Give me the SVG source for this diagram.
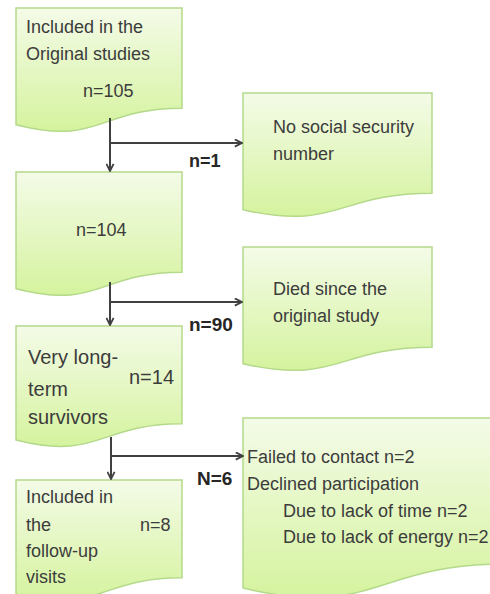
<svg xmlns="http://www.w3.org/2000/svg" width="490" height="594" viewBox="0 0 490 594">
<defs>
<linearGradient id="g" x1="0" y1="0" x2="0" y2="1">
<stop offset="0" stop-color="#f4fbe8"/>
<stop offset="1" stop-color="#d5f39e"/>
</linearGradient>
<marker id="arr" viewBox="0 0 10 10" refX="9" refY="5" markerWidth="9" markerHeight="9" markerUnits="userSpaceOnUse" orient="auto">
<path d="M1,1 L9,5 L1,9" fill="none" stroke="#404040" stroke-width="2"/>
</marker>
<style>
.box{fill:url(#g);stroke:#b4d98a;stroke-width:1.5}
.t{font-family:"Liberation Sans",Arial,sans-serif;font-size:18px;fill:#3c3c3c}
.big{font-size:20px}
.lbl{font-family:"Liberation Sans",Arial,sans-serif;font-weight:bold;fill:#262626}
.c{fill:none;stroke:#404040;stroke-width:2}
</style>
</defs>
<rect width="490" height="594" fill="#ffffff"/>
<g id="node-original">
<path class="box" d="M16,8 H182 V108.25 C99,108.25 99,146.4 16,124.75 Z"/>
<text class="t" x="26" y="33">Included in the</text>
<text class="t" x="26" y="60">Original studies</text>
<text class="t" x="83" y="97">n=105</text>
</g>
<g id="node-nossn">
<path class="box" d="M243,93 H432 V193.25 C337.5,193.25 337.5,231.4 243,209.75 Z"/>
<text class="t" x="273" y="133">No social security</text>
<text class="t" x="273" y="160">number</text>
</g>
<g id="node-104">
<path class="box" d="M16,172 H182 V272.25 C99,272.25 99,310.4 16,288.75 Z"/>
<text class="t" x="76" y="236">n=104</text>
</g>
<g id="node-died">
<path class="box" d="M243,247 H432 V347.25 C337.5,347.25 337.5,385.4 243,363.75 Z"/>
<text class="t" x="273" y="295">Died since the</text>
<text class="t" x="273" y="322">original study</text>
</g>
<g id="node-survivors">
<path class="box" d="M16,326 H182 V423.8 C99,423.8 99,461.1 16,440 Z"/>
<text class="t big" x="28" y="364">Very long-</text>
<text class="t big" x="129" y="384">n=14</text>
<text class="t big" x="28" y="396">term</text>
<text class="t big" x="28" y="424">survivors</text>
</g>
<g id="node-followup">
<path class="box" d="M16,480 H182 V577.8 C99,577.8 99,615.1 16,594 Z"/>
<text class="t" x="26" y="503">Included in</text>
<text class="t" x="26" y="531">the</text>
<text class="t" x="140" y="531">n=8</text>
<text class="t" x="26" y="557">follow-up</text>
<text class="t" x="26" y="583">visits</text>
</g>
<g id="node-excluded">
<path class="box" d="M243,418 H505 V564 C374,564 374,619.6 243,588 Z"/>
<text class="t" x="247" y="463">Failed to contact n=2</text>
<text class="t" x="247" y="490">Declined participation</text>
<text class="t" x="283" y="517">Due to lack of time n=2</text>
<text class="t" x="283" y="543">Due to lack of energy n=2</text>
</g>
<g id="connectors">
<path class="c" d="M110,118 V171" marker-end="url(#arr)"/>
<path class="c" d="M110,143 H242" marker-end="url(#arr)"/>
<path class="c" d="M110,282 V325" marker-end="url(#arr)"/>
<path class="c" d="M110,302 H242" marker-end="url(#arr)"/>
<path class="c" d="M111,437 V479" marker-end="url(#arr)"/>
<path class="c" d="M111,456 H243" marker-end="url(#arr)"/>
<text class="lbl" x="189" y="167" font-size="18">n=1</text>
<text class="lbl" x="189" y="331" font-size="19">n=90</text>
<text class="lbl" x="197" y="485" font-size="19">N=6</text>
</g>
</svg>
